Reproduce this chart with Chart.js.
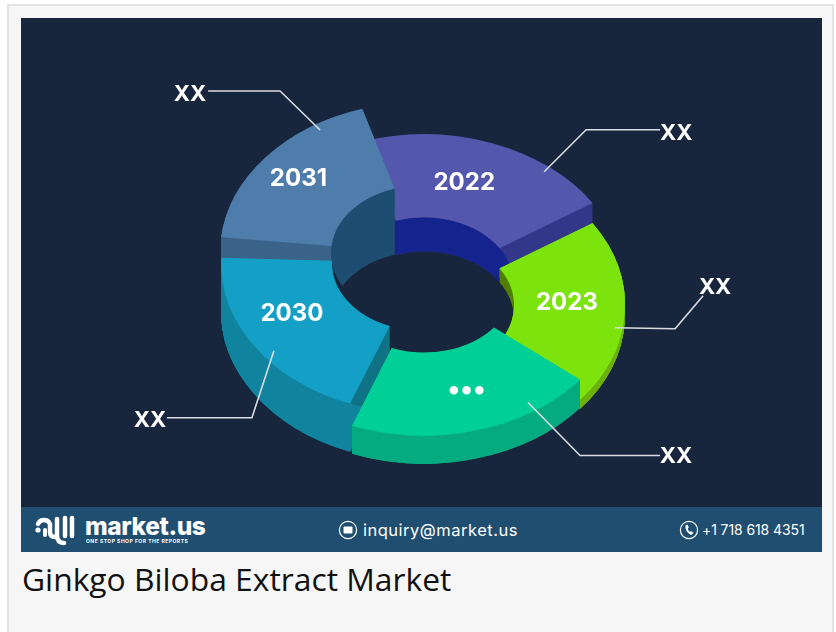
<!DOCTYPE html>
<html>
<head>
<meta charset="utf-8">
<title>Ginkgo Biloba Extract Market</title>
<script src="https://cdn.jsdelivr.net/npm/chart.js"></script>
<style>
  html, body { margin: 0; padding: 0; background: #fff; overflow: hidden; }
  #card { position: absolute; left: 7px; top: 4px; width: 827px; height: 640px; background: #f6f6f6; border: 2px solid #e3e3e3; box-sizing: border-box; }
  #panel { position: absolute; left: 21px; top: 18px; width: 801px; height: 489px; background: #18263d; }
  #panel canvas { display: block; }
  #strip { position: absolute; left: 21px; top: 507px; width: 801px; height: 45px; background: #1f4e70; color: #fff; font-family: Inter, sans-serif; }
  #strip span, #strip svg { position: absolute; }
  #brand { left: 64px; top: 5px; font: 800 24.5px/28px Inter, sans-serif; letter-spacing: -0.4px; }
  #tag { left: 65px; top: 31px; font: 700 5px/6px Inter, sans-serif; letter-spacing: 0.5px; white-space: nowrap; }
  #mail { left: 342px; top: 12px; font-size: 16.5px; line-height: 22px; letter-spacing: 0.5px; }
  #phone { left: 681px; top: 12px; font-size: 14px; line-height: 22px; letter-spacing: -0.1px; }
  #caption { position: absolute; left: 22px; top: 557px; font: 31.8px/44px "Open Sans", sans-serif; color: #111; white-space: nowrap; }
</style>
</head>
<body>
<div id="card"></div>
<div id="panel"><canvas id="donut" width="801" height="489"></canvas></div>
<div id="strip">
  <svg style="left:14px;top:8px" width="46" height="32" viewBox="0 0 46 32" fill="none" stroke="#fff" stroke-linecap="round">
    <circle cx="3" cy="15" r="2.6" fill="#fff" stroke="none"/>
    <path d="M3 9 A6.5 6.5 0 0 1 15 9 L15 17 Q15 22 20 22" stroke-width="4.5"/>
    <path d="M10 15 L10 20" stroke-width="4"/>
    <path d="M22 4 L22 20 Q22 28 29 28" stroke-width="4.5"/>
    <path d="M30 3 L30 21 M37 3 L37 21" stroke-width="4.5"/>
  </svg>
  <span id="brand">market.us</span>
  <span id="tag">ONE STOP SHOP FOR THE REPORTS</span>
  <svg style="left:317px;top:12px" width="20" height="22" viewBox="0 0 20 22">
    <circle cx="10" cy="11" r="8.6" fill="none" stroke="#fff" stroke-width="1.2"/>
    <rect x="5.5" y="7.5" width="9" height="7" rx="1" fill="#fff"/>
  </svg>
  <span id="mail">inquiry@market.us</span>
  <svg style="left:658px;top:12px" width="20" height="22" viewBox="0 0 20 22">
    <circle cx="10" cy="11" r="8.6" fill="none" stroke="#fff" stroke-width="1.2"/>
    <path d="M6.5 6.5 Q5.5 12 12 16 L14.5 14 L12 12 L11 13 Q9 11.5 8.8 9.5 L9.8 8.5 L8.5 5.5 Z" fill="#fff"/>
  </svg>
  <span id="phone">+1 718 618 4351</span>
</div>
<div id="caption">Ginkgo Biloba Extract Market</div>

<script>
// slices, clockwise from the 2022 one
const categories = ['2022', '2023', '•••', '2030', '2031'];
const sliceValues = [75, 72, 72, 71, 70];
const calloutText = ['XX', 'XX', 'XX', 'XX', 'XX'];

// colours per slice
const topColors = ['#5358ad', '#7ce40c', '#00cf98', '#14a0c6', '#4e7cab'];
const sideColors = ['#33378a', '#6cb00b', '#05ab80', '#10849f', '#3b6288'];
const capColors = ['#33378a', '#6cb00b', '#05ab80', '#0e7485', '#3b6288'];
const innerColors = ['#15238f', '#4f7e00', '#05ab80', '#10849f', '#1d4e72'];

// fake 3D: each slice is raised or lowered and has its own wall height
const liftY = [0, -20, 0, 22, 32];
const shiftX = [0, 0, 0, -2, -3];
const outerWall = [34, 9, 28, 48, 22];
const innerWall = [34, 14, 28, 48, 66];
const trimDeg = [[0, 0], [0, 0], [0, 0], [0, 0], [4, -1]];
const drawOrder = [0, 4, 1, 3, 2];
const squash = 0.75;

// label / leader placement, degrees clockwise from north and radius
const labelDeg = [16, 88, 163, 243, 310];
const labelRad = [146, 143, 146, 146, 160];
const labelNudge = [3, 2, 0, 1, 3];
const labelSize = [24, 24, 27, 24, 24];
const leaderDeg = [38.5, 99, 146.4, 231.7, 328.4];
const leaderRad = [193, 193.5, 188, 188.7, 192.6];
const leaderBend = [[42, -42], [60, 1], [52, 53], [-22, 67], [-40, -39]];
const leaderEnd = [[116, -42], [88, -32], [132, 53], [-107, 67], [-112, -39]];
const textShift = [[16, 4], [12, -8], [16, 1], [-17, 3], [-18, 3]];

const rad = d => (d - 90) * Math.PI / 180;

function project(i, arc, deg, r) {
    return {
        x: arc.x + shiftX[i] + r * Math.cos(rad(deg)),
        y: arc.y - liftY[i] + r * Math.sin(rad(deg)) * squash
    };
}

function paintArc(ctx, arc, i, offsetY, color) {
    const saved = arc.options;
    arc.options = Object.assign({}, saved, { backgroundColor: color });
    ctx.save();
    ctx.translate(arc.x + shiftX[i], arc.y - liftY[i] + offsetY);
    ctx.scale(1, squash);
    ctx.translate(-arc.x, -arc.y);
    arc.draw(ctx);
    ctx.restore();
    arc.options = saved;
}

// stacking on the chart canvas leaves faint vertical bars from repeated edge
// blending, so stack on a scratch canvas and flood it with the flat colour
function paintStack(chart, arc, i, height, color) {
    const scratch = document.createElement('canvas');
    scratch.width = chart.width;
    scratch.height = chart.height;
    const sctx = scratch.getContext('2d');
    for (let d = height; d > 0; d -= 0.5) paintArc(sctx, arc, i, d, color);
    sctx.globalCompositeOperation = 'source-in';
    sctx.fillStyle = color;
    sctx.fillRect(0, 0, scratch.width, scratch.height);
    chart.ctx.drawImage(scratch, 0, 0);
}

const donut3d = {
    id: 'donut3d',
    beforeDatasetsDraw(chart) {
        const ctx = chart.ctx;
        const arcs = chart.getDatasetMeta(0).data;
        drawOrder.forEach(i => {
            const arc = arcs[i];
            const start = arc.startAngle, end = arc.endAngle;
            arc.startAngle = start + trimDeg[i][0] * Math.PI / 180;
            arc.endAngle = end - trimDeg[i][1] * Math.PI / 180;
            const cx = arc.x + shiftX[i], cy = arc.y - liftY[i];

            // end faces
            paintStack(chart, arc, i, outerWall[i], capColors[i]);

            // walls on the hole side
            ctx.save();
            ctx.beginPath();
            ctx.ellipse(cx, cy, arc.innerRadius, arc.innerRadius * squash, 0, 0, Math.PI * 2);
            ctx.clip();
            paintStack(chart, arc, i, innerWall[i], innerColors[i]);
            ctx.restore();

            // walls on the outside
            ctx.save();
            ctx.beginPath();
            ctx.rect(0, 0, chart.width, chart.height);
            ctx.ellipse(cx, cy, arc.outerRadius, arc.outerRadius * squash, 0, 0, Math.PI * 2);
            ctx.clip('evenodd');
            paintStack(chart, arc, i, outerWall[i], sideColors[i]);
            ctx.restore();

            paintArc(ctx, arc, i, 0, topColors[i]);
            arc.startAngle = start;
            arc.endAngle = end;
        });
        return false;
    },
    afterDraw(chart) {
        const ctx = chart.ctx;
        const arcs = chart.getDatasetMeta(0).data;
        ctx.save();
        ctx.textAlign = 'center';
        ctx.textBaseline = 'middle';
        ctx.fillStyle = '#fff';
        arcs.forEach((arc, i) => {
            // leader line and its XX
            const a = project(i, arc, leaderDeg[i], leaderRad[i]);
            ctx.strokeStyle = '#d9dde2';
            ctx.lineWidth = 1.6;
            ctx.beginPath();
            ctx.moveTo(a.x, a.y);
            ctx.lineTo(a.x + leaderBend[i][0], a.y + leaderBend[i][1]);
            const ex = a.x + leaderEnd[i][0], ey = a.y + leaderEnd[i][1];
            ctx.lineTo(ex, ey);
            ctx.stroke();
            ctx.font = '700 22px Inter, sans-serif';
            ctx.fillText(calloutText[i], ex + textShift[i][0], ey + textShift[i][1]);

            // year inside the slice
            const p = project(i, arc, labelDeg[i], labelRad[i]);
            ctx.font = '700 ' + labelSize[i] + 'px Inter, sans-serif';
            ctx.fillText(categories[i], p.x, p.y + labelNudge[i]);
        });
        ctx.restore();
    }
};

new Chart(document.getElementById('donut'), {
    type: 'doughnut',
    data: {
        labels: categories,
        datasets: [{ data: sliceValues, backgroundColor: topColors, borderWidth: 0 }]
    },
    options: {
        responsive: false,
        animation: false,
        rotation: -18,
        radius: 201,
        cutout: '44.8%',
        layout: { padding: { top: 45, left: 5 } },
        plugins: { legend: { display: false }, tooltip: { enabled: false } }
    },
    plugins: [donut3d]
});
</script>
</body>
</html>
